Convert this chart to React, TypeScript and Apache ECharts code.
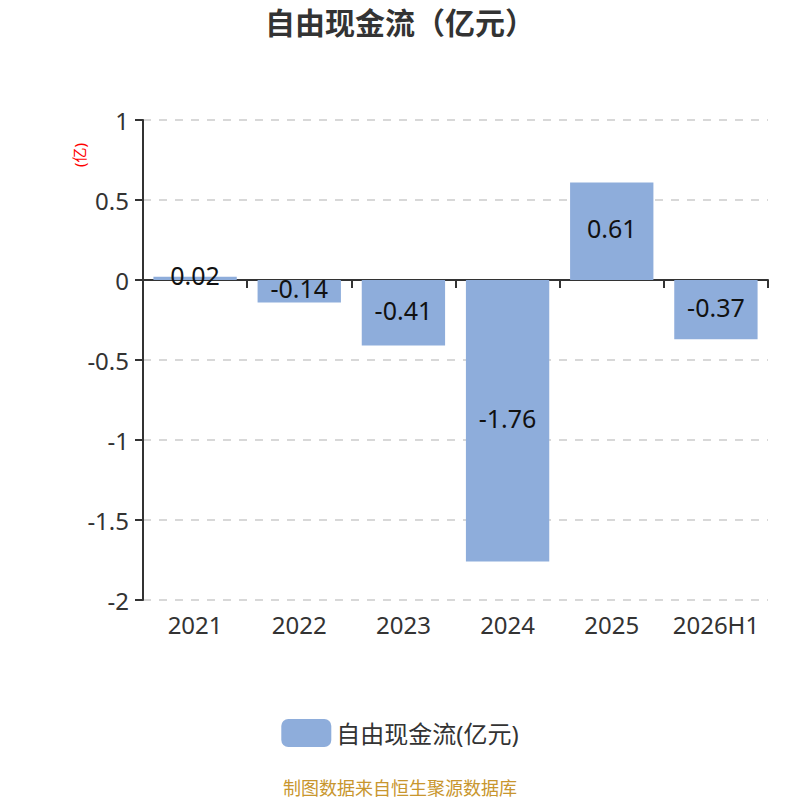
import React, { useEffect, useRef } from "react";
import * as echarts from "echarts";

const categories = ["2021", "2022", "2023", "2024", "2025", "2026H1"];
const values = [0.02, -0.14, -0.41, -1.76, 0.61, -0.37];
const seriesName = "自由现金流(亿元)";
const titleText = "自由现金流（亿元）";
const unitText = "(亿)";
const footerText = "制图数据来自恒生聚源数据库";

const FONT = "'Noto Sans', 'Noto Sans CJK SC', sans-serif";

export default function App() {
  const ref = useRef<HTMLDivElement>(null);
  useEffect(() => {
    document.body.style.margin = "0";
    const chart = echarts.init(ref.current!, null, { renderer: "svg" });
    chart.setOption({
      animation: false,
      textStyle: { fontFamily: FONT },
      title: {
        text: titleText,
        left: "center",
        top: 2,
        textStyle: { fontSize: 30, fontWeight: "bold", color: "#333", fontFamily: FONT },
      },
      legend: {
        bottom: 48,
        left: "center",
        itemWidth: 50,
        itemHeight: 28,
        itemGap: 10,
        icon: "roundRect",
        textStyle: { fontSize: 24, color: "#333", fontFamily: FONT },
        data: [seriesName],
      },
      grid: { left: 143, right: 32, top: 120, bottom: 200 },
      xAxis: [
        {
          type: "category",
          data: categories,
          axisLine: { onZero: true, lineStyle: { color: "#333", width: 2 } },
          axisTick: { show: true, length: 8, lineStyle: { color: "#333", width: 2 } },
          axisLabel: { show: false },
        },
        {
          type: "category",
          data: categories,
          position: "bottom",
          axisLine: { show: false, onZero: false },
          axisTick: { show: false },
          axisLabel: {
            show: true,
            interval: 0,
            hideOverlap: false,
            fontSize: 24,
            color: "#333",
            margin: 12,
            fontFamily: FONT,
          },
        },
      ],
      yAxis: {
        type: "value",
        min: -2,
        max: 1,
        interval: 0.5,
        axisLine: { show: true, lineStyle: { color: "#333", width: 2 } },
        axisTick: { show: true, length: 8, lineStyle: { color: "#333", width: 2 } },
        axisLabel: { fontSize: 24, color: "#333", margin: 14, fontFamily: FONT },
        splitLine: { show: true, lineStyle: { color: "#ccc", type: [8, 8], width: 1.5 } },
      },
      graphic: [
        {
          type: "text",
          x: 79,
          y: 155,
          rotation: Math.PI / 2,
          style: {
            text: unitText,
            fill: "#ff0000",
            fontSize: 15,
            fontFamily: FONT,
            textAlign: "center",
            textVerticalAlign: "middle",
          },
        },
        {
          type: "text",
          left: "center",
          top: 779,
          style: {
            text: footerText,
            fill: "#c8962e",
            fontSize: 18,
            fontFamily: FONT,
          },
        },
      ],
      series: [
        {
          name: seriesName,
          type: "bar",
          xAxisIndex: 0,
          barWidth: "80%",
          data: values,
          itemStyle: { color: "#8eaddb" },
          label: {
            show: true,
            position: "inside",
            offset: [0, -3],
            fontSize: 25,
            color: "#111",
            fontFamily: FONT,
          },
        },
      ],
    });
    return () => chart.dispose();
  }, []);
  return <div ref={ref} style={{ width: 800, height: 800 }} />;
}
